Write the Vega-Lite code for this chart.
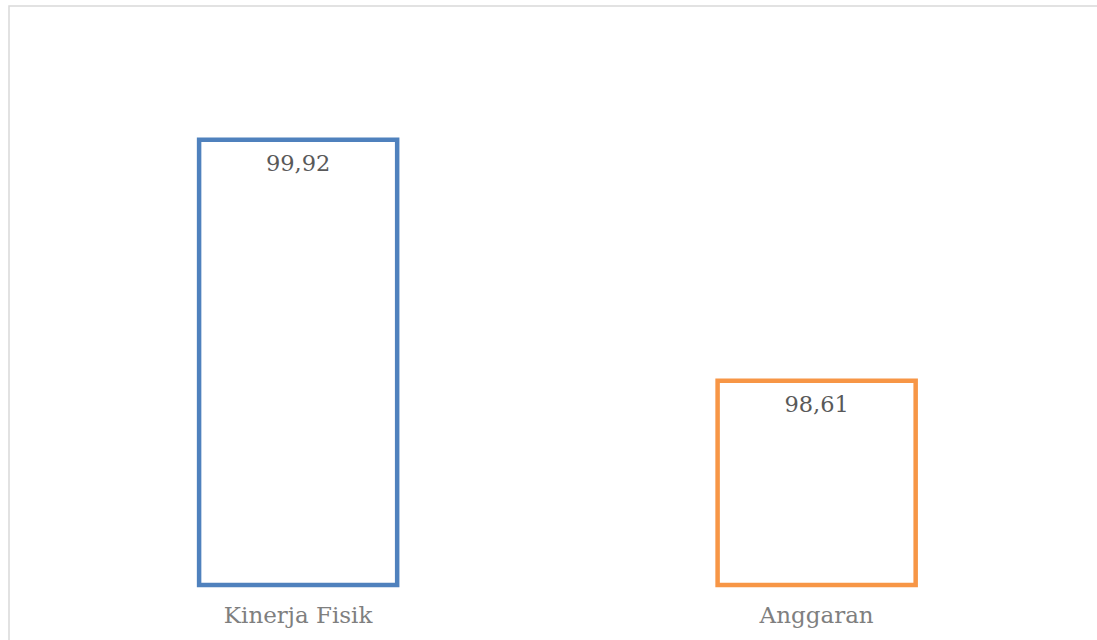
{
  "$schema": "https://vega.github.io/schema/vega-lite/v6.json",
  "autosize": "none",
  "padding": {"top": 6, "left": 9, "right": 0, "bottom": 0},
  "width": 1093,
  "height": 636,
  "background": "white",
  "config": {
    "view": {"stroke": "#d9d9d9", "strokeWidth": 1.5},
    "locale": {"number": {"decimal": ",", "thousands": ".", "grouping": [3], "currency": ["Rp", ""]}}
  },
  "data": {
    "values": [
      {"kategori": "Kinerja Fisik", "nilai": 99.92},
      {"kategori": "Anggaran", "nilai": 98.61}
    ]
  },
  "encoding": {
    "x": {
      "field": "kategori",
      "type": "nominal",
      "sort": null,
      "axis": null,
      "scale": {"paddingInner": 0.618, "paddingOuter": 0.363, "align": 0.505}
    }
  },
  "layer": [
    {
      "mark": {"type": "bar", "fill": null, "fillOpacity": 0, "strokeWidth": 4.5, "clip": false},
      "encoding": {
        "y": {"field": "nilai", "type": "quantitative", "axis": null,
              "scale": {"domain": [97.19, 100.647], "nice": false, "zero": false}},
        "y2": {"datum": 97.5},
        "stroke": {"field": "kategori", "type": "nominal", "legend": null,
                   "scale": {"domain": ["Kinerja Fisik", "Anggaran"], "range": ["#4f81bd", "#f79646"]}}
      }
    },
    {
      "mark": {"type": "text", "font": "DejaVu Serif", "fontSize": 22.5, "color": "#595959", "baseline": "alphabetic", "dy": 31},
      "encoding": {
        "y": {"field": "nilai", "type": "quantitative"},
        "text": {"field": "nilai", "type": "quantitative", "format": ".2f"}
      }
    },
    {
      "mark": {"type": "text", "font": "DejaVu Serif", "fontSize": 23, "color": "#7f7f7f", "baseline": "alphabetic", "dy": 38},
      "encoding": {
        "y": {"datum": 97.5},
        "text": {"field": "kategori", "type": "nominal"}
      }
    }
  ]
}
